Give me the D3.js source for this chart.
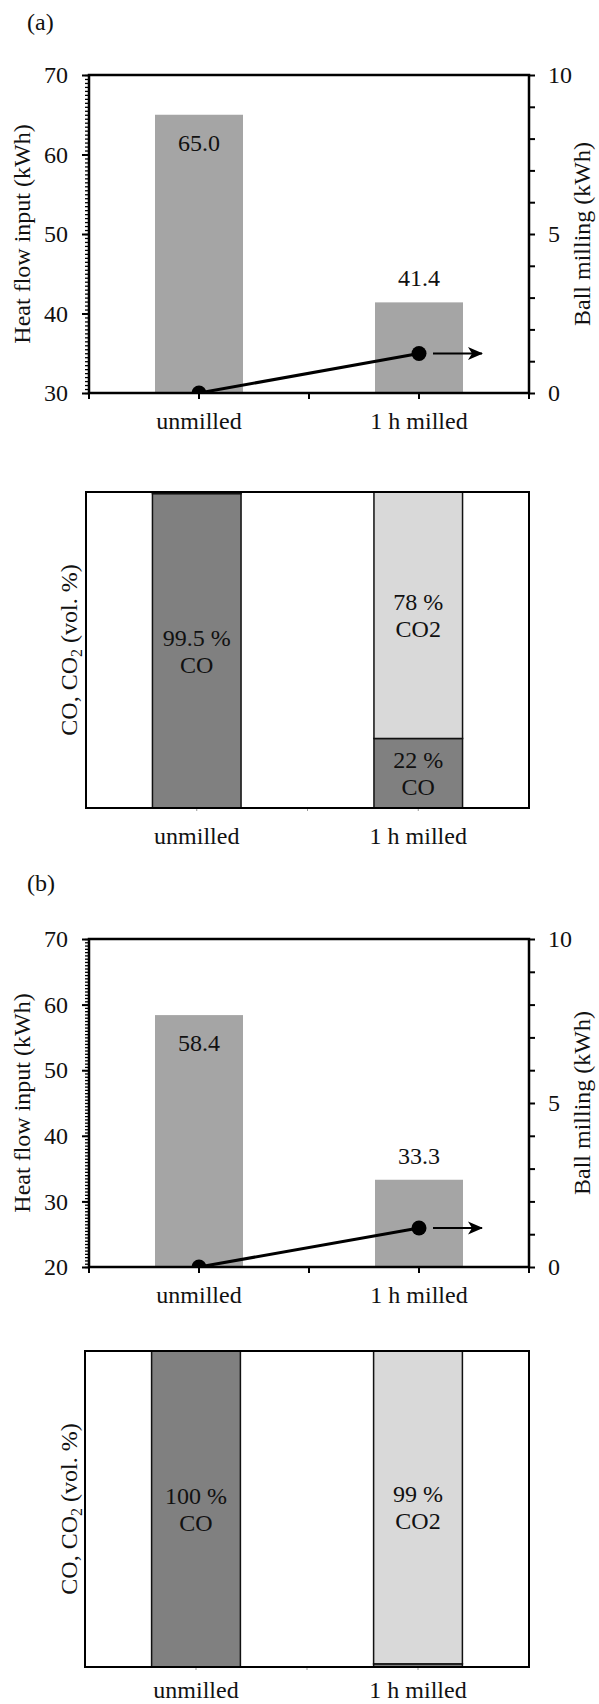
<!DOCTYPE html>
<html>
<head>
<meta charset="utf-8">
<script src="https://cdn.jsdelivr.net/npm/d3@7"></script>
<style>
  html, body { margin: 0; padding: 0; background: #fff; }
  svg { display: block; }
</style>
</head>
<body>
<div id="chart"></div>
<script>
// ---- data ----
const categories = ["unmilled", "1 h milled"];

// (a) heat flow input (kWh, left axis) and ball milling energy (kWh, right axis)
const heatInputA = [65.0, 41.4];
const ballMillingA = [0, 1.24];
// (b)
const heatInputB = [58.4, 33.3];
const ballMillingB = [0, 1.19];

// off-gas composition (vol. %)
const coShareA = [99.5, 22];
const co2ShareA = [0.5, 78];
const coShareB = [100, 1];
const co2ShareB = [0, 99];

const heatTicksA = [30, 40, 50, 60, 70];
const heatTicksB = [20, 30, 40, 50, 60, 70];
const millTickLabels = [0, 5, 10];

// ---- drawing ----
const W = 599, H = 1704;
const FONT = "Liberation Serif, Times New Roman, Times, serif";
const FS = 24;

const svg = d3.select("#chart").append("svg")
  .attr("width", W).attr("height", H)
  .style("font-family", FONT).style("font-size", FS + "px");
svg.append("rect").attr("width", W).attr("height", H).attr("fill", "#fff");

const defs = svg.append("defs");
defs.append("marker")
  .attr("id", "arrowHead")
  .attr("markerUnits", "userSpaceOnUse")
  .attr("viewBox", "0 -7 16 14")
  .attr("refX", 14).attr("refY", 0)
  .attr("markerWidth", 16).attr("markerHeight", 14)
  .attr("orient", "auto")
  .append("path")
  .attr("d", "M0,-6.5 L15,0 L0,6.5 L4,0 Z")
  .attr("fill", "#000");

function panelLabel(text, yBase) {
  svg.append("text").attr("x", 27).attr("y", yBase).attr("fill", "#111").text(text);
}

function styleAxisText(a) {
  a.selectAll("text")
    .style("font-family", FONT).style("font-size", FS + "px")
    .attr("fill", "#111");
}

function energyPanel(cfg) {
  const { id, top, bottom, left, right, heat, mill, heatTicks, heatDomain } = cfg;
  const g = svg.append("g");
  const x = d3.scaleBand().domain(categories).range([left, right]);
  const y = d3.scaleLinear().domain(heatDomain).range([bottom, top]);
  const yR = d3.scaleLinear().domain([0, 10]).range([bottom, top]);
  const cx = c => x(c) + x.bandwidth() / 2;
  const bw = x.bandwidth() * 0.4;

  // bars: heat flow input
  g.selectAll("rect.bar").data(categories).join("rect")
    .attr("class", "bar")
    .attr("x", c => cx(c) - bw / 2)
    .attr("width", bw)
    .attr("y", (c, i) => y(heat[i]))
    .attr("height", (c, i) => bottom - y(heat[i]))
    .attr("fill", "#a5a5a5");

  // value labels: inside the top of tall bars, above short ones
  g.selectAll("text.val").data(categories).join("text")
    .attr("class", "val")
    .attr("text-anchor", "middle")
    .attr("fill", "#111")
    .attr("x", c => cx(c))
    .attr("y", (c, i) => {
      const yt = y(heat[i]);
      return (bottom - yt) > 120 ? yt + 36 : yt - 16;
    })
    .text((c, i) => d3.format(".1f")(heat[i]));

  // left axis: minor comb + major ticks with labels
  g.append("g").attr("transform", `translate(${left},0)`)
    .call(d3.axisLeft(y)
      .tickValues(d3.range(heatDomain[0], heatDomain[1] + 1e-9, 0.5))
      .tickSize(4).tickFormat(""))
    .call(a => a.select(".domain").remove())
    .call(a => a.selectAll("line").attr("stroke", "#000").attr("stroke-width", 1.3));
  g.append("g").attr("transform", `translate(${left},0)`)
    .call(d3.axisLeft(y).tickValues(heatTicks).tickSize(7).tickPadding(14))
    .call(a => a.select(".domain").remove())
    .call(a => a.selectAll("line").attr("stroke", "#000").attr("stroke-width", 2))
    .call(styleAxisText);

  // right axis: ball milling
  g.append("g").attr("transform", `translate(${right},0)`)
    .call(d3.axisRight(yR).tickValues(d3.range(0, 10.5, 1)).tickSize(6).tickPadding(13)
      .tickFormat(d => millTickLabels.includes(d) ? d : ""))
    .call(a => a.select(".domain").remove())
    .call(a => a.selectAll("line").attr("stroke", "#000").attr("stroke-width", 2))
    .call(styleAxisText);

  // bottom ticks at band edges and centres
  const xt = [];
  categories.forEach(c => { xt.push(x(c)); xt.push(cx(c)); });
  xt.push(right);
  g.selectAll("line.xt").data(xt).join("line")
    .attr("class", "xt")
    .attr("x1", d => d).attr("x2", d => d)
    .attr("y1", bottom).attr("y2", bottom + 6)
    .attr("stroke", "#000").attr("stroke-width", 2);

  // category labels
  g.selectAll("text.cat").data(categories).join("text")
    .attr("class", "cat").attr("text-anchor", "middle").attr("fill", "#111")
    .attr("x", c => cx(c)).attr("y", bottom + 36).text(c => c);

  // ball milling line (clipped to the plot area)
  defs.append("clipPath").attr("id", "clip" + id)
    .append("rect").attr("x", left).attr("y", top)
    .attr("width", right - left).attr("height", bottom - top);
  const pts = categories.map((c, i) => [cx(c), yR(mill[i])]);
  const lg = g.append("g").attr("clip-path", `url(#clip${id})`);
  lg.append("path").attr("d", d3.line()(pts))
    .attr("fill", "none").attr("stroke", "#000").attr("stroke-width", 3);
  lg.selectAll("circle").data(pts).join("circle")
    .attr("cx", d => d[0]).attr("cy", d => d[1]).attr("r", 7.5).attr("fill", "#000");

  // arrow pointing to the right-hand axis
  const last = pts[pts.length - 1];
  g.append("line")
    .attr("x1", last[0] + 14).attr("x2", last[0] + 63)
    .attr("y1", last[1]).attr("y2", last[1])
    .attr("stroke", "#000").attr("stroke-width", 2)
    .attr("marker-end", "url(#arrowHead)");

  // plot frame
  g.append("rect").attr("x", left).attr("y", top)
    .attr("width", right - left).attr("height", bottom - top)
    .attr("fill", "none").attr("stroke", "#000").attr("stroke-width", 2.5);

  // axis titles
  const mid = (top + bottom) / 2;
  g.append("text").attr("transform", `translate(30,${mid}) rotate(-90)`)
    .attr("text-anchor", "middle").attr("fill", "#111").text("Heat flow input (kWh)");
  g.append("text").attr("transform", `translate(590,${mid}) rotate(-90)`)
    .attr("text-anchor", "middle").attr("fill", "#111").text("Ball milling (kWh)");
}

function gasPanel(cfg) {
  const { top, bottom, left, right, co, co2, labelGap } = cfg;
  const g = svg.append("g");
  const x = d3.scaleBand().domain(categories).range([left, right]);
  const y = d3.scaleLinear().domain([0, 100]).range([bottom, top]);
  const cx = c => x(c) + x.bandwidth() / 2;
  const bw = x.bandwidth() * 0.4;

  const rows = categories.map((c, i) => ({ cat: c, CO: co[i], CO2: co2[i] }));
  const keys = ["CO", "CO2"];
  const colors = { CO: "#808080", CO2: "#d9d9d9" };
  const series = d3.stack().keys(keys)(rows);

  series.forEach(s => {
    g.selectAll(null).data(s).join("rect")
      .attr("x", d => cx(d.data.cat) - bw / 2)
      .attr("width", bw)
      .attr("y", d => y(d[1]))
      .attr("height", d => y(d[0]) - y(d[1]))
      .attr("fill", colors[s.key])
      .attr("stroke", "#111").attr("stroke-width", 1.5);
  });

  // segment labels: share on first line, gas on second
  series.forEach(s => {
    s.forEach(d => {
      const v = d[1] - d[0];
      if (v < 5) return;
      const c = (y(d[0]) + y(d[1])) / 2;
      const t = g.append("text").attr("text-anchor", "middle").attr("fill", "#111");
      t.append("tspan").attr("x", cx(d.data.cat)).attr("y", c - 13.5).attr("dy", "0.35em").text(`${v} %`);
      t.append("tspan").attr("x", cx(d.data.cat)).attr("y", c + 13.5).attr("dy", "0.35em").text(s.key);
    });
  });

  // small ticks under the box
  const xt = [cx(categories[0]), x(categories[1]), cx(categories[1])];
  g.selectAll("line.xt").data(xt).join("line")
    .attr("x1", d => d).attr("x2", d => d)
    .attr("y1", bottom).attr("y2", bottom + 3)
    .attr("stroke", "#999").attr("stroke-width", 1);

  g.append("rect").attr("x", left).attr("y", top)
    .attr("width", right - left).attr("height", bottom - top)
    .attr("fill", "none").attr("stroke", "#000").attr("stroke-width", 2);

  g.selectAll("text.cat").data(categories).join("text")
    .attr("class", "cat").attr("text-anchor", "middle").attr("fill", "#111")
    .attr("x", c => cx(c)).attr("y", bottom + labelGap).text(c => c);

  const mid = (top + bottom) / 2;
  const tt = g.append("text").attr("transform", `translate(77,${mid}) rotate(-90)`)
    .attr("text-anchor", "middle").attr("fill", "#111");
  tt.append("tspan").text("CO, CO");
  tt.append("tspan").style("font-size", "16px").attr("dy", 5).text("2");
  tt.append("tspan").attr("dy", -5).text(" (vol. %)");
}

panelLabel("(a)", 30);
energyPanel({ id: "a", top: 75, bottom: 393, left: 89, right: 529,
  heat: heatInputA, mill: ballMillingA, heatTicks: heatTicksA, heatDomain: [30, 70] });
gasPanel({ top: 492, bottom: 808, left: 86, right: 529, co: coShareA, co2: co2ShareA, labelGap: 36 });

panelLabel("(b)", 891);
energyPanel({ id: "b", top: 939, bottom: 1267, left: 89, right: 529,
  heat: heatInputB, mill: ballMillingB, heatTicks: heatTicksB, heatDomain: [20, 70] });
gasPanel({ top: 1351, bottom: 1667, left: 85, right: 529, co: coShareB, co2: co2ShareB, labelGap: 31 });
</script>
</body>
</html>
